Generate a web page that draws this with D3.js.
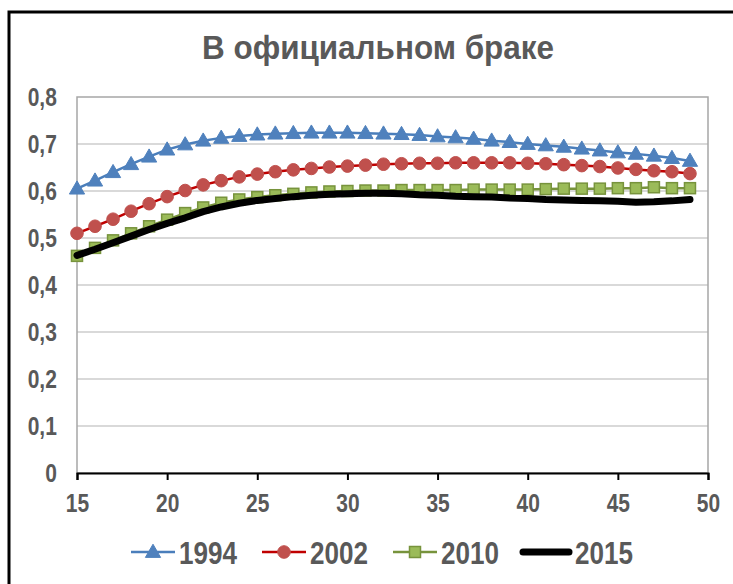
<!DOCTYPE html>
<html>
<head>
<meta charset="utf-8">
<script src="https://cdn.jsdelivr.net/npm/d3@7"></script>
<style>
  body { margin: 0; background: #fff; }
  svg text { font-family: "Liberation Sans", Arial, sans-serif; font-weight: bold; fill: #595959; }
</style>
</head>
<body>
<div id="chart"></div>
<script>
// ages on the x axis
const ages = d3.range(15, 50);

const s1994 = [0.605, 0.622, 0.640, 0.657, 0.673, 0.688, 0.699, 0.707, 0.713, 0.717,
  0.720, 0.722, 0.723, 0.724, 0.724, 0.724, 0.723, 0.722, 0.721, 0.719,
  0.716, 0.714, 0.711, 0.707, 0.704, 0.700, 0.697, 0.694, 0.690, 0.686,
  0.682, 0.679, 0.675, 0.670, 0.664];
const s2002 = [0.510, 0.525, 0.540, 0.557, 0.573, 0.588, 0.601, 0.613, 0.622, 0.630,
  0.636, 0.641, 0.645, 0.648, 0.651, 0.653, 0.655, 0.657, 0.658, 0.659,
  0.659, 0.660, 0.660, 0.660, 0.660, 0.659, 0.658, 0.656, 0.654, 0.652,
  0.649, 0.646, 0.643, 0.641, 0.637];
const s2010 = [0.462, 0.479, 0.495, 0.510, 0.525, 0.539, 0.553, 0.565, 0.575, 0.582,
  0.587, 0.591, 0.594, 0.597, 0.599, 0.600, 0.601, 0.601, 0.602, 0.602,
  0.602, 0.602, 0.603, 0.603, 0.603, 0.603, 0.604, 0.605, 0.605, 0.605,
  0.606, 0.606, 0.608, 0.606, 0.606];
const s2015 = [0.463, 0.476, 0.490, 0.504, 0.518, 0.531, 0.543, 0.556, 0.566, 0.574,
  0.580, 0.584, 0.588, 0.591, 0.593, 0.594, 0.595, 0.595, 0.594, 0.592,
  0.591, 0.589, 0.588, 0.587, 0.585, 0.584, 0.582, 0.581, 0.580, 0.579,
  0.578, 0.576, 0.577, 0.579, 0.582];

const xTicks = [15, 20, 25, 30, 35, 40, 45, 50];
const yTicks = [0, 0.1, 0.2, 0.3, 0.4, 0.5, 0.6, 0.7, 0.8];
const seriesNames = ["1994", "2002", "2010", "2015"];
const title = "В официальном браке";

const svg = d3
  .select("#chart")
  .append("svg")
  .attr("width", 733)
  .attr("height", 584);

const margin = { top: 97, right: 25, bottom: 111, left: 77 },
  width = 733 - margin.left - margin.right,
  height = 584 - margin.top - margin.bottom,
  squeeze = 0.84; // the screenshot's font is a condensed one

const series = [
  { name: seriesNames[0], values: s1994, line: "#4a7ebb", lw: 2.5, marker: "triangle", fill: "#4f81bd", stroke: "#4f81bd" },
  { name: seriesNames[1], values: s2002, line: "#c00000", lw: 2.5, marker: "circle", fill: "#c0504d", stroke: "#c0504d" },
  { name: seriesNames[2], values: s2010, line: "#77933c", lw: 2.5, marker: "square", fill: "#9bbb59", stroke: "#77933c" },
  { name: seriesNames[3], values: s2015, line: "#000000", lw: 7, marker: null }
];

// outer chart frame (cut off at right / bottom like the screenshot)
svg
  .append("rect")
  .attr("x", 9)
  .attr("y", 12)
  .attr("width", 760)
  .attr("height", 600)
  .attr("fill", "none")
  .attr("stroke", "#000")
  .attr("stroke-width", 3);

svg
  .append("text")
  .attr("x", 378)
  .attr("y", 59)
  .attr("text-anchor", "middle")
  .attr("textLength", 352)
  .attr("lengthAdjust", "spacingAndGlyphs")
  .style("font-size", "34px")
  .text(title);

const x = d3.scaleLinear().domain([15, 50]).range([0, width]);
const y = d3.scaleLinear().domain([0, 0.8]).range([height, 0]);

const g = svg
  .append("g")
  .attr("transform", "translate(" + margin.left + "," + margin.top + ")");

// gridlines
g.append("g")
  .selectAll("line")
  .data(yTicks.filter(d => d > 0 && d < 0.8))
  .enter()
  .append("line")
  .attr("x1", 0)
  .attr("x2", width)
  .attr("y1", d => y(d))
  .attr("y2", d => y(d))
  .attr("stroke", "#d9d9d9")
  .attr("stroke-width", 2);

// plot area border
g.append("rect")
  .attr("width", width)
  .attr("height", height)
  .attr("fill", "none")
  .attr("stroke", "#a6a6a6")
  .attr("stroke-width", 1.5);

const fmt = d => String(d3.format(".1~f")(d)).replace(".", ",");

const yAxis = d3.axisLeft(y).tickValues(yTicks).tickSize(0).tickPadding(24).tickFormat(fmt);
g.append("g")
  .attr("class", "axis axis--y")
  .call(yAxis)
  .call(s => s.select(".domain").remove())
  .selectAll("text")
  .style("font-size", "25px")
  .attr("fill", "#595959")
  .attr("transform", "scale(" + squeeze + ",1)");

const xAxis = d3.axisBottom(x).tickValues(xTicks).tickSize(7).tickPadding(14);
g.append("g")
  .attr("class", "axis axis--x")
  .attr("transform", "translate(0," + height + ")")
  .call(xAxis)
  .call(s => s.select(".domain").attr("stroke", "#000").attr("stroke-width", 2))
  .call(s => s.selectAll(".tick line").attr("stroke", "#000").attr("stroke-width", 2))
  .selectAll("text")
  .style("font-size", "25px")
  .attr("fill", "#595959")
  .attr("transform", "scale(" + squeeze + ",1)");

const line = d3
  .line()
  .x((d, i) => x(ages[i]))
  .y(d => y(d));

const tri = d3.symbol().type(d3.symbolTriangle).size(100);

function drawMarker(sel, type, fill, stroke) {
  if (type === "triangle") {
    sel.append("path").attr("d", tri).attr("transform", "translate(0,1)")
      .attr("fill", fill).attr("stroke", stroke).attr("stroke-width", 1);
  } else if (type === "circle") {
    sel.append("circle").attr("r", 6.3).attr("fill", fill).attr("stroke", stroke).attr("stroke-width", 1);
  } else if (type === "square") {
    sel.append("rect").attr("x", -5.5).attr("y", -5.5).attr("width", 11).attr("height", 11)
      .attr("fill", fill).attr("stroke", stroke).attr("stroke-width", 1.5);
  }
}

series.forEach(s => {
  g.append("path")
    .datum(s.values)
    .attr("fill", "none")
    .attr("stroke", s.line)
    .attr("stroke-width", s.lw)
    .attr("stroke-linejoin", "round")
    .attr("stroke-linecap", "round")
    .attr("d", line);

  if (s.marker) {
    g.append("g")
      .selectAll("g")
      .data(s.values)
      .enter()
      .append("g")
      .attr("transform", (d, i) => "translate(" + x(ages[i]) + "," + y(d) + ")")
      .each(function() { drawMarker(d3.select(this), s.marker, s.fill, s.stroke); });
  }
});

// LEGEND
const legendX = [131, 262, 393, 523];
const legend = svg
  .append("g")
  .selectAll("g")
  .data(series)
  .enter()
  .append("g")
  .attr("transform", (d, i) => "translate(" + legendX[i] + ",552)");

legend
  .append("line")
  .attr("x1", 0)
  .attr("x2", d => (d.marker ? 44 : 46))
  .attr("stroke", d => d.line)
  .attr("stroke-width", d => d.lw)
  .attr("stroke-linecap", d => (d.marker ? "butt" : "round"));

legend.each(function(d) {
  if (d.marker) {
    const m = d3.select(this).append("g").attr("transform", "translate(22,0)");
    drawMarker(m, d.marker, d.fill, d.stroke);
  }
});

legend
  .append("text")
  .attr("x", d => (d.marker ? 48 : 52))
  .attr("y", 12)
  .attr("textLength", 58)
  .attr("lengthAdjust", "spacingAndGlyphs")
  .style("font-size", "31px")
  .text(d => d.name);
</script>
</body>
</html>
